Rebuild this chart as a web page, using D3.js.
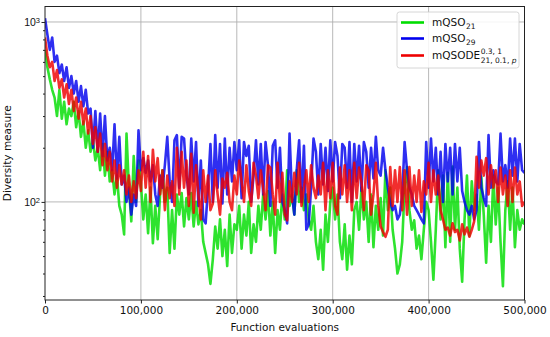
<!DOCTYPE html>
<html>
<head>
<meta charset="utf-8">
<script src="https://cdn.jsdelivr.net/npm/d3@7"></script>
<style>
  html, body { margin: 0; padding: 0; background: #fff; }
  svg { display: block; font-family: "DejaVu Sans", sans-serif; }
</style>
</head>
<body>
<svg id="chart" width="550" height="337"></svg>
<script>
// ---- data (function evaluations sampled every 2,500) ----
const evalStep = 2500;
const xTicks = [0, 100000, 200000, 300000, 400000, 500000];
const xTickLabels = ["0", "100,000", "200,000", "300,000", "400,000", "500,000"];
const yMajorTicks = [100, 1000];
const yMajorExp = ["2", "3"];
const yMinorTicks = [30, 40, 50, 60, 70, 80, 90, 200, 300, 400, 500, 600, 700, 800, 900];
const seriesNames = ["mQSO21", "mQSO29", "mQSODE"];

const mQSO21 = [
  700, 560, 480, 420, 380, 300, 420, 290, 360, 270,
  330, 300, 360, 260, 320, 230, 280, 200, 250, 190,
  220, 170, 200, 150, 210, 140, 190, 130, 150, 110,
  140, 95, 85, 66, 240, 120, 78, 180, 100, 170,
  127, 80, 110, 67, 120, 59, 95, 62, 110, 150,
  100, 120, 52, 90, 55, 110, 85, 112, 73, 105,
  80, 112, 73, 100, 75, 90, 60, 52, 45, 35,
  48, 73, 55, 80, 50, 70, 44, 85, 52, 75,
  70, 95, 55, 85, 65, 100, 52, 75, 60, 95,
  70, 110, 80, 115, 65, 100, 52, 90, 70, 110,
  80, 150, 95, 110, 85, 150, 100, 120, 90, 110,
  80, 70, 95, 60, 48, 70, 42, 85, 60, 100,
  120, 80, 110, 60, 48, 75, 42, 65, 45, 90,
  100, 70, 120, 80, 100, 60, 110, 56, 95, 70,
  105, 65, 150, 90, 120, 70, 55, 40, 45, 60,
  120, 156, 90, 70, 79, 55, 65, 48, 70, 100,
  90, 60, 37, 70, 150, 80, 140, 56, 145, 60,
  157, 70, 120, 55, 36, 80, 140, 65, 130, 90,
  110, 70, 138, 85, 46, 95, 60, 140, 75, 120,
  60, 34, 90, 130, 70, 120, 56, 90, 70, 80,
  75
];

const mQSO29 = [
  1050, 850, 700, 820, 600, 650, 520, 580, 470, 560,
  430, 500, 400, 470, 360, 440, 340, 420, 310, 330,
  200, 320, 190, 310, 180, 300, 170, 200, 150, 270,
  135, 230, 125, 140, 100, 120, 85, 110, 95, 250,
  150, 175, 145, 170, 130, 160, 110, 95, 140, 120,
  160, 230, 130, 100, 220, 235, 120, 230, 225, 140,
  110, 225, 130, 215, 95, 170, 80, 76, 120, 210,
  100, 235, 120, 210, 98, 225, 110, 200, 130, 215,
  150, 220, 105, 215, 180, 205, 100, 140, 220, 125,
  210, 110, 215, 160, 95, 205, 220, 120, 200, 100,
  90, 76, 240, 110, 85, 150, 220, 100, 205, 70,
  75, 120, 225, 190, 110, 210, 125, 200, 115, 220,
  130, 215, 180, 105, 210, 200, 120, 215, 100, 210,
  130, 205, 115, 215, 190, 120, 200, 135, 230, 150,
  140, 200, 150, 120, 100, 90, 95, 80, 85, 110,
  215, 150, 120, 110, 95, 90, 85, 80, 76, 215,
  120, 225, 130, 200, 110, 190, 100, 210, 130, 200,
  110, 210, 130, 200, 115, 100, 90, 85, 95, 80,
  90, 215, 120, 105, 95, 235, 120, 150, 130, 125,
  240, 130, 160, 120, 225, 140, 225, 130, 210, 150,
  145
];

const mQSODE = [
  820, 650, 560, 600, 470, 540, 430, 480, 380, 450,
  350, 420, 320, 380, 290, 360, 270, 330, 240, 300,
  210, 260, 190, 240, 160, 210, 150, 190, 130, 170,
  120, 160, 125, 150, 110, 140, 100, 130, 105, 150,
  115, 190, 120, 180, 100, 195, 130, 175, 110, 150,
  90, 140, 105, 130, 95, 200, 110, 190, 120, 170,
  95, 185, 87, 160, 110, 80, 150, 100, 140, 90,
  98, 150, 110, 85, 135, 120, 145, 100, 90, 140,
  110, 170, 130, 100, 160, 115, 95, 165, 140, 105,
  150, 120, 90, 160, 155, 110, 85, 165, 100, 145,
  85, 79, 130, 100, 145, 110, 165, 95, 120, 150,
  100, 160, 120, 105, 140, 110, 165, 90, 150, 105,
  165, 95, 85, 155, 110, 160, 100, 150, 90, 165,
  105, 155, 130, 90, 160, 150, 85, 110, 165, 95,
  73, 68, 64, 70, 156, 95, 150, 100, 156, 90,
  150, 85, 156, 95, 140, 100, 150, 88, 130, 110,
  165, 100, 150, 110, 140, 90, 80, 70, 72, 65,
  76, 68, 70, 61, 75, 66, 72, 64, 70, 78,
  178, 120, 170, 140, 175, 110, 160, 120, 150, 100,
  155, 110, 140, 95, 150, 100, 155, 110, 130, 95,
  100
];

// ---- layout ----
const svg = d3.select("#chart");
const L = 45, R = 524.5, T = 6.5, B = 300;
const x = d3.scaleLinear().domain([0, 500000]).range([L, R]);
const y = d3.scaleLog().domain([28.5, 1219]).range([B, T]);

const series = [
  { name: seriesNames[0], values: mQSO21, color: "#00dd00" },
  { name: seriesNames[1], values: mQSO29, color: "#0000ee" },
  { name: seriesNames[2], values: mQSODE, color: "#ee0000" }
];

// grid
const grid = svg.append("g");
xTicks.slice(1, -1).forEach(t => {
  grid.append("line").attr("x1", x(t)).attr("x2", x(t)).attr("y1", T).attr("y2", B)
    .attr("stroke", "#b0b0b0").attr("stroke-width", 0.9);
});
yMajorTicks.forEach(t => {
  grid.append("line").attr("x1", L).attr("x2", R).attr("y1", y(t)).attr("y2", y(t))
    .attr("stroke", "#b0b0b0").attr("stroke-width", 0.9);
});

// lines
svg.append("clipPath").attr("id", "clip").append("rect")
  .attr("x", L).attr("y", T).attr("width", R - L).attr("height", B - T);
const line = d3.line().x((d, i) => x(i * evalStep)).y(d => y(d));
const lines = svg.append("g").attr("clip-path", "url(#clip)");
series.forEach(s => {
  lines.append("path").datum(s.values).attr("d", line)
    .attr("fill", "none").attr("stroke", s.color).attr("stroke-width", 2.6)
    .attr("stroke-opacity", 0.82).attr("stroke-linejoin", "round");
});

// frame
svg.append("rect").attr("x", L).attr("y", T).attr("width", R - L).attr("height", B - T)
  .attr("fill", "none").attr("stroke", "#222").attr("stroke-width", 1);

// x axis
const xAxis = d3.axisBottom(x).tickValues(xTicks).tickSize(3.5).tickPadding(3)
  .tickFormat((d, i) => xTickLabels[i]);
const gx = svg.append("g").attr("transform", `translate(0,${B})`).call(xAxis);
gx.select(".domain").remove();
gx.selectAll("text").attr("font-size", 10.5).attr("font-family", "DejaVu Sans").attr("fill", "#111");
gx.selectAll("line").attr("stroke", "#222");

// y axis: minor ticks
const gyMinor = svg.append("g").attr("transform", `translate(${L},0)`)
  .call(d3.axisLeft(y).tickValues(yMinorTicks).tickSize(2).tickFormat(""));
gyMinor.select(".domain").remove();
gyMinor.selectAll("line").attr("stroke", "#222");
// y axis: major ticks
const gy = svg.append("g").attr("transform", `translate(${L},0)`)
  .call(d3.axisLeft(y).tickValues(yMajorTicks).tickSize(3.5).tickPadding(3).tickFormat(""));
gy.select(".domain").remove();
gy.selectAll("line").attr("stroke", "#222");
gy.selectAll(".tick").each(function (d, i) {
  const t = d3.select(this).append("text").attr("x", -5).attr("dy", "0.35em")
    .attr("text-anchor", "end").attr("font-size", 10.5).attr("fill", "#111");
  t.append("tspan").text("10");
  t.append("tspan").attr("font-size", 7.5).attr("dy", "-0.45em").text(yMajorExp[i]);
});

// axis titles
svg.append("text").attr("x", (L + R) / 2).attr("y", 331).attr("text-anchor", "middle")
  .attr("font-size", 10.5).attr("fill", "#111").text("Function evaluations");
svg.append("text").attr("transform", `translate(11,${(T + B) / 2}) rotate(-90)`)
  .attr("text-anchor", "middle").attr("font-size", 10.5).attr("fill", "#111").text("Diversity measure");

// legend
const lg = svg.append("g");
lg.append("rect").attr("x", 397).attr("y", 12).attr("width", 122).attr("height", 56)
  .attr("rx", 2.5).attr("fill", "#fff").attr("fill-opacity", 0.85)
  .attr("stroke", "#cccccc").attr("stroke-width", 0.8);
const rowsY = [22.5, 38.5, 55.5];
const subs = ["21", "29", null];
series.forEach((s, i) => {
  lg.append("line").attr("x1", 401).attr("x2", 424).attr("y1", rowsY[i]).attr("y2", rowsY[i])
    .attr("stroke", s.color).attr("stroke-width", 2.6);
  const base = i < 2 ? "mQSO" : "mQSODE";
  const t = lg.append("text").attr("x", 432).attr("y", rowsY[i]).attr("dy", "0.35em")
    .attr("font-size", 10.5).attr("fill", "#111").text(base);
  const w = t.node().getComputedTextLength();
  if (i < 2) {
    lg.append("text").attr("x", 432 + w + 0.5).attr("y", rowsY[i] + 6.5)
      .attr("font-size", 7.5).attr("fill", "#111").text(subs[i]);
  } else {
    lg.append("text").attr("x", 432 + w + 0.5).attr("y", rowsY[i] - 1.5)
      .attr("font-size", 7.5).attr("fill", "#111").text("0.3, 1");
    const st = lg.append("text").attr("x", 432 + w + 0.5).attr("y", rowsY[i] + 7)
      .attr("font-size", 7.5).attr("fill", "#111");
    st.append("tspan").text("21, 0.1, ");
    st.append("tspan").attr("font-style", "italic").text("p");
  }
});
</script>
</body>
</html>
